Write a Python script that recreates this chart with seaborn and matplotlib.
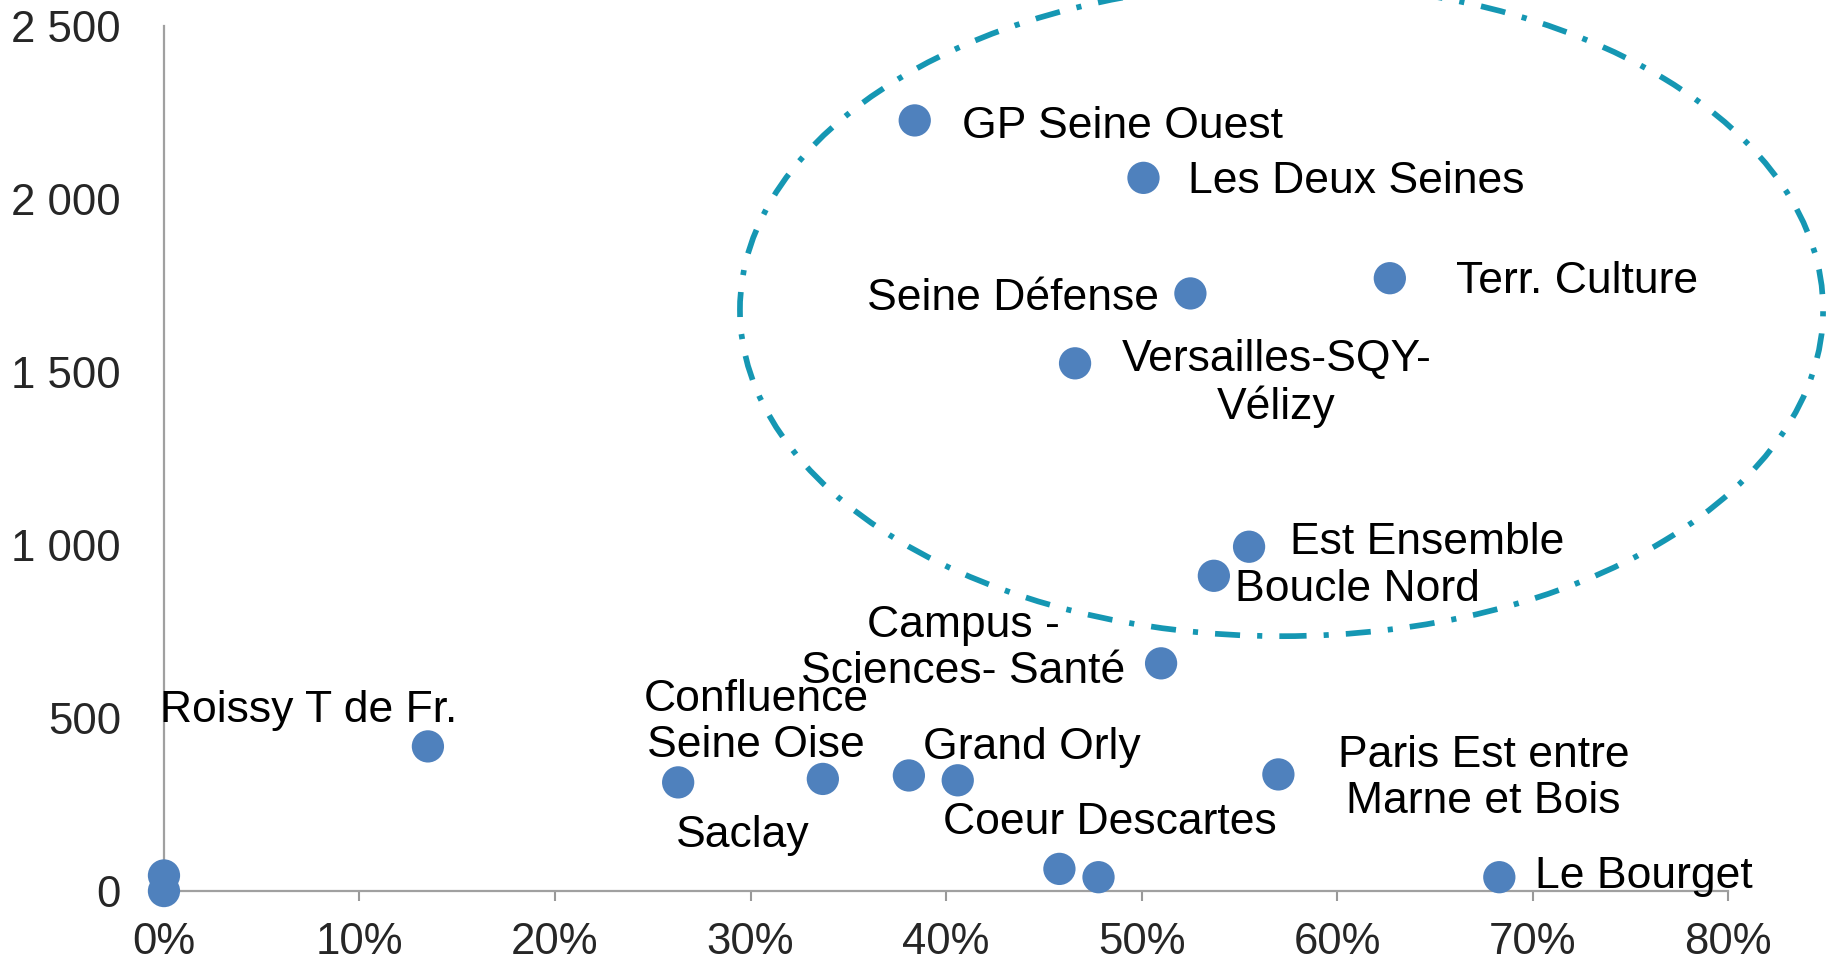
import numpy as np
import matplotlib
matplotlib.use("Agg")
import matplotlib.pyplot as plt
import seaborn as sns
from matplotlib.patches import Ellipse
from matplotlib.ticker import FixedLocator

# part of share (%) vs. value, one point per territory
names = ["GP Seine Ouest", "Les Deux Seines", "Terr. Culture", "Seine Défense",
         "Versailles-SQY-Vélizy", "Est Ensemble", "Boucle Nord", "Campus Sciences Santé",
         "Roissy T de Fr.", "Confluence Seine Oise", "Saclay", "Grand Orly", "Orly 2",
         "Paris Est entre Marne et Bois", "Coeur Descartes", "Coeur Descartes 2",
         "Le Bourget", "Paris A", "Paris B"]
share = [38.4, 50.1, 62.7, 52.5, 46.6, 55.5, 53.7, 51.0, 13.5, 33.7, 26.3, 40.6, 38.1,
         57.0, 45.8, 47.8, 68.3, 0.0, 0.0]
value = [2227, 2061, 1771, 1727, 1525, 995, 911, 658, 418, 324, 314, 320, 334,
         337, 64, 40, 40, 45, 0]

x_ticks = [0, 10, 20, 30, 40, 50, 60, 70, 80]
x_ticklabels = ["0%", "10%", "20%", "30%", "40%", "50%", "60%", "70%", "80%"]
y_ticks = [0, 500, 1000, 1500, 2000, 2500]
y_ticklabels = ["0", "500", "1 000", "1 500", "2 000", "2 500"]

# labels as drawn on the chart: text, x, y, alignment
label_text = ["GP Seine Ouest", "Les Deux Seines", "Terr. Culture", "Seine Défense",
              "Versailles-SQY-\nVélizy", "Est Ensemble", "Boucle Nord",
              "Campus -\nSciences- Santé", "Roissy T de Fr.", "Confluence\nSeine Oise",
              "Saclay", "Grand Orly", "Paris Est entre\nMarne et Bois",
              "Coeur Descartes", "Le Bourget"]
label_x = [40.8, 52.4, 66.1, 50.9, 56.9, 57.6, 54.8, 40.9, 7.4, 30.3, 29.6, 44.4, 67.5, 48.4, 70.1]
label_y = [2210, 2051, 1762, 1712, 1466, 1006, 871, 702, 521, 487, 160, 415, 326, 197, 42]
label_ha = ["left", "left", "left", "right", "center", "left", "left", "center", "center",
            "center", "center", "center", "center", "center", "left"]

sns.set_theme(style="white")
plt.rcParams['font.family'] = ['Liberation Sans', 'DejaVu Sans']

fig = plt.figure(figsize=(18.3, 9.61), dpi=100)
ax = fig.add_axes([0.0896, 0.0728, 0.8547, 0.9002])

sns.scatterplot(x=share, y=value, ax=ax, marker="o", s=540, color="#4F81BD",
                edgecolor="none", linewidth=0, clip_on=False, zorder=3)

# the dash-dot ring around the high-value group
ring = Ellipse((57.16, 1680), 55.4, 1887, fill=False, edgecolor="#1597B3",
               linewidth=4.1, linestyle=(0, (4.4, 3, 0.9, 3)), clip_on=False, zorder=2)
ax.add_patch(ring)

for t, lx, ly, ha in zip(label_text, label_x, label_y, label_ha):
    ax.text(lx, ly, t, ha=ha, va="center", fontsize=32, color="black",
            multialignment="center", linespacing=1.15, zorder=4)

ax.set_xlim(0, 80)
ax.set_ylim(0, 2500)
ax.xaxis.set_major_locator(FixedLocator(x_ticks))
ax.set_xticklabels(x_ticklabels)
ax.yaxis.set_major_locator(FixedLocator(y_ticks))
ax.set_yticklabels(y_ticklabels)
ax.tick_params(axis="x", direction="out", length=7.5, width=1.5, color="#999999",
               pad=15, labelsize=31.5, bottom=True)
ax.tick_params(axis="y", length=0, pad=31, labelsize=31.5)

for s in ["top", "right"]:
    ax.spines[s].set_visible(False)
for s in ["left", "bottom"]:
    ax.spines[s].set_color("#A0A0A0")
    ax.spines[s].set_linewidth(1.6)
ax.grid(False)
ax.set_xlabel("")
ax.set_ylabel("")

fig.savefig("out.png", dpi=100)
